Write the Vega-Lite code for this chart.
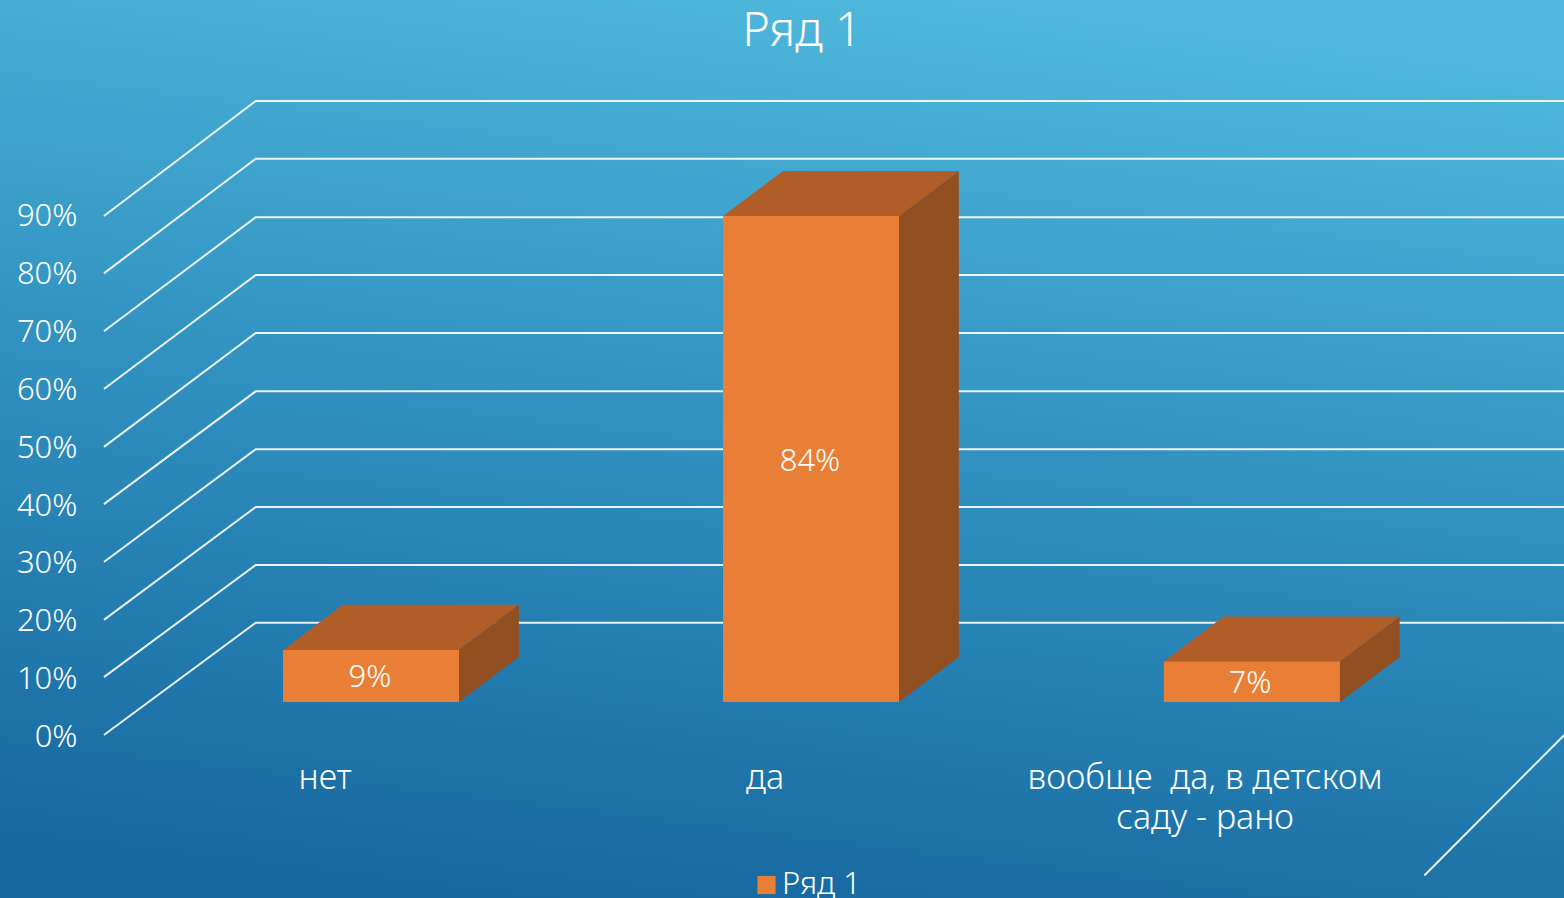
{
"$schema":"https://vega.github.io/schema/vega-lite/v6.json",
"width":1564,"height":898,"padding":0,"autosize":"none",
"view":{"stroke":null,"fill":{"gradient":"linear","x1":0.62,"y1":0,"x2":0.4,"y2":1.03,"stops":[{"offset":0,"color":"#4FB8DC"},{"offset":0.5,"color":"#2F8FBE"},{"offset":1,"color":"#16679F"}]}},
"title":{"text":"Ряд 1","font":"Noto Sans","fontSize":47,"fontWeight":300,"color":"#FFFFFF","anchor":"middle","dx":20,"offset":-93,"baseline":"alphabetic"},
"datasets":{
"bars":[{"category":"нет","value":9,"pos":1,"series":"Ряд 1","label":"9%"},{"category":"да","value":84,"pos":2,"series":"Ряд 1","label":"84%"},{"category":"вообще\u00a0 да, в детском\nсаду - рано","value":7,"pos":3,"series":"Ряд 1","label":"7%"}],
"grid":[
{"level":0,"x":0.393,"y":-5.7},{"level":0,"x":0.738,"y":13.7},{"level":0,"x":3.72,"y":13.7},
{"level":10,"x":0.393,"y":4.3},{"level":10,"x":0.738,"y":23.7},{"level":10,"x":3.72,"y":23.7},
{"level":20,"x":0.393,"y":14.2},{"level":20,"x":0.738,"y":33.7},{"level":20,"x":3.72,"y":33.7},
{"level":30,"x":0.393,"y":24.2},{"level":30,"x":0.738,"y":43.7},{"level":30,"x":3.72,"y":43.7},
{"level":40,"x":0.393,"y":34.2},{"level":40,"x":0.738,"y":53.7},{"level":40,"x":3.72,"y":53.7},
{"level":50,"x":0.393,"y":44.1},{"level":50,"x":0.738,"y":63.8},{"level":50,"x":3.72,"y":63.8},
{"level":60,"x":0.393,"y":54.1},{"level":60,"x":0.738,"y":73.8},{"level":60,"x":3.72,"y":73.8},
{"level":70,"x":0.393,"y":64.1},{"level":70,"x":0.738,"y":83.8},{"level":70,"x":3.72,"y":83.8},
{"level":80,"x":0.393,"y":74.1},{"level":80,"x":0.738,"y":93.9},{"level":80,"x":3.72,"y":93.9},
{"level":90,"x":0.393,"y":84.0},{"level":90,"x":0.738,"y":103.9},{"level":90,"x":3.72,"y":103.9},
{"level":-1,"x":3.394,"y":-30},{"level":-1,"x":3.712,"y":-5.7}
],
"top":[
{"category":"нет","x":0.8,"y":9,"y2":9},{"category":"нет","x":0.936,"y":16.8,"y2":9},{"category":"нет","x":1.2,"y":16.8,"y2":9},{"category":"нет","x":1.336,"y":16.8,"y2":16.8},
{"category":"да","x":1.8,"y":84,"y2":84},{"category":"да","x":1.936,"y":91.8,"y2":84},{"category":"да","x":2.2,"y":91.8,"y2":84},{"category":"да","x":2.336,"y":91.8,"y2":91.8},
{"category":"сад","x":2.802,"y":7,"y2":7},{"category":"сад","x":2.938,"y":14.8,"y2":7},{"category":"сад","x":3.202,"y":14.8,"y2":7},{"category":"сад","x":3.338,"y":14.8,"y2":14.8}
],
"side":[
{"category":"нет","x":1.2,"y":9,"y2":0},{"category":"нет","x":1.336,"y":16.8,"y2":7.8},
{"category":"да","x":2.2,"y":84,"y2":0},{"category":"да","x":2.336,"y":91.8,"y2":7.8},
{"category":"сад","x":3.202,"y":7,"y2":0},{"category":"сад","x":3.338,"y":14.8,"y2":7.8}
]
},
"layer":[
{"data":{"name":"grid"},"mark":{"type":"line","color":"#FFFFFF","strokeWidth":2,"clip":true,"opacity":0.9},
"encoding":{"x":{"field":"x","type":"quantitative","scale":{"domain":[0.1568,3.7114],"nice":false,"zero":false},"axis":null},
"y":{"field":"y","type":"quantitative","scale":{"domain":[-33.88,121.35],"nice":false,"zero":false},
"axis":{"orient":"left","offset":-85,"values":[0,10,20,30,40,50,60,70,80,90],"labelExpr":"datum.value + '%'","title":null,"domain":false,"ticks":false,"grid":false,"labelOffset":35.5,"labelPadding":8,"labelFont":"Noto Sans","labelFontSize":31,"labelFontWeight":300,"labelColor":"#FFFFFF","labelAlign":"right","labelBaseline":"middle"}},
"detail":{"field":"level","type":"nominal"},"order":{"field":"x","type":"quantitative"}}},
{"data":{"name":"top"},"mark":{"type":"area","color":"#B05D28"},
"encoding":{"x":{"field":"x","type":"quantitative"},"y":{"field":"y","type":"quantitative"},"y2":{"field":"y2"},"detail":{"field":"category","type":"nominal"}}},
{"data":{"name":"side"},"mark":{"type":"area","color":"#925022"},
"encoding":{"x":{"field":"x","type":"quantitative"},"y":{"field":"y","type":"quantitative"},"y2":{"field":"y2"},"detail":{"field":"category","type":"nominal"}}},
{"data":{"name":"bars"},"transform":[{"calculate":"datum.pos - 0.2 + (datum.pos == 3 ? 0.002 : 0)","as":"left"},{"calculate":"datum.pos + 0.2 + (datum.pos == 3 ? 0.002 : 0)","as":"right"},{"calculate":"0","as":"base"}],
"mark":{"type":"rect"},
"encoding":{"x":{"field":"left","type":"quantitative"},"x2":{"field":"right"},"y":{"field":"base","type":"quantitative"},"y2":{"field":"value"},
"color":{"field":"series","type":"nominal","scale":{"domain":["Ряд 1"],"range":["#E97F36"]},
"legend":{"orient":"none","legendX":751,"legendY":869.5,"title":null,"symbolType":"square","symbolSize":330,"symbolStrokeWidth":0,"labelOffset":0,"labelFont":"Noto Sans","labelFontSize":31,"labelFontWeight":300,"labelColor":"#FFFFFF"}}}},
{"data":{"name":"bars"},"transform":[{"calculate":"datum.value / 2","as":"middle"}],
"mark":{"type":"text","color":"#FFFFFF","font":"Noto Sans","fontSize":31,"fontWeight":300,"align":"center","baseline":"middle","dy":2.5,"dx":-1},
"encoding":{"x":{"field":"pos","type":"quantitative"},"y":{"field":"middle","type":"quantitative"},"text":{"field":"label","type":"nominal"}}},
{"data":{"name":"bars"},"transform":[{"calculate":"datum.pos - 0.102","as":"labelx"},{"calculate":"-13","as":"labely"}],
"mark":{"type":"text","color":"#FFFFFF","font":"Noto Sans","fontSize":34,"fontWeight":300,"align":"center","baseline":"middle","lineBreak":"\n","lineHeight":40,"dy":2,"dx":-1},
"encoding":{"x":{"field":"labelx","type":"quantitative"},"y":{"field":"labely","type":"quantitative"},"text":{"field":"category","type":"nominal"}}}
]
}
